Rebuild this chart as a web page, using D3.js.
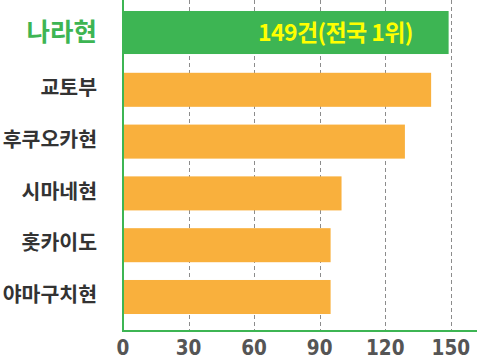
<!DOCTYPE html>
<html>
<head>
<meta charset="utf-8">
<script src="https://cdn.jsdelivr.net/npm/d3@7"></script>
<style>
  body { margin: 0; background: #fff; }
  svg { display: block; }
</style>
</head>
<body>
<div id="chart"></div>
<script>
// data
const regions = ["나라현", "교토부", "후쿠오카현", "시마네현", "홋카이도", "야마구치현"];
const counts = [149, 141, 129, 100, 95, 95];
const ticks = [0, 30, 60, 90, 120, 150];
const highlight = "나라현";
const note = "149건(전국 1위)";

const width = 477, height = 357;
const x0 = 123, axisY = 331;

const svg = d3.select("#chart").append("svg")
    .attr("width", width)
    .attr("height", height);

const x = d3.scaleLinear().domain([0, 150]).range([x0, 450.8]);

const y = d3.scaleBand()
    .domain(regions)
    .range([4, axisY])
    .paddingInner(0.343)
    .paddingOuter(0.328);

// grid
svg.append("g")
    .selectAll("line")
    .data(ticks.filter(t => t > 0))
    .join("line")
    .attr("x1", d => Math.round(x(d)) + 0.5)
    .attr("x2", d => Math.round(x(d)) + 0.5)
    .attr("y1", 0)
    .attr("y2", axisY)
    .attr("stroke", "#8c8c8c")
    .attr("stroke-width", 1)
    .attr("stroke-dasharray", "4,3");

// bars
svg.append("g")
    .selectAll("rect")
    .data(regions)
    .join("rect")
    .attr("x", x(0))
    .attr("y", d => d === highlight ? y(d) - 10 : y(d))
    .attr("width", (d, i) => x(counts[i]) - x(0))
    .attr("height", d => d === highlight ? y.bandwidth() + 9 : y.bandwidth())
    .attr("fill", d => d === highlight ? "#3db553" : "#f9b03d");

// highlight note
svg.append("text")
    .attr("x", 258)
    .attr("y", y(highlight) + y.bandwidth() / 2 - 5)
    .attr("dy", "0.35em")
    .style("font-family", "'Noto Sans CJK KR', sans-serif")
    .style("font-weight", "bold")
    .style("font-size", "23px")
    .style("fill", "#ffff00")
    .style("letter-spacing", "-0.6px")
    .text(note);

// category labels
svg.append("g")
    .selectAll("text")
    .data(regions)
    .join("text")
    .attr("x", 97)
    .attr("y", d => d === highlight ? y(d) + y.bandwidth() / 2 - 6 : y(d) + y.bandwidth() / 2 - 2)
    .attr("dy", "0.35em")
    .attr("text-anchor", "end")
    .style("font-family", "'Noto Sans CJK KR', sans-serif")
    .style("font-weight", "bold")
    .style("font-size", d => d === highlight ? "25.5px" : "20.5px")
    .style("fill", d => d === highlight ? "#3db553" : "#333333")
    .text(d => d);

// axes lines
svg.append("line")
    .attr("x1", x0).attr("x2", x0)
    .attr("y1", 0).attr("y2", axisY + 1)
    .attr("stroke", "#3db553")
    .attr("stroke-width", 2);

svg.append("line")
    .attr("x1", x0 - 1).attr("x2", width)
    .attr("y1", axisY).attr("y2", axisY)
    .attr("stroke", "#3db553")
    .attr("stroke-width", 2);

// tick labels
svg.append("g")
    .selectAll("text")
    .data(ticks)
    .join("text")
    .attr("x", d => x(d))
    .attr("y", 355)
    .attr("text-anchor", "middle")
    .style("font-family", "'Liberation Sans Narrow', 'DejaVu Sans Condensed', sans-serif")
    .style("font-weight", "bold")
    .style("font-size", "20.5px")
    .style("fill", "#555555")
    .text(d => d);
</script>
</body>
</html>
